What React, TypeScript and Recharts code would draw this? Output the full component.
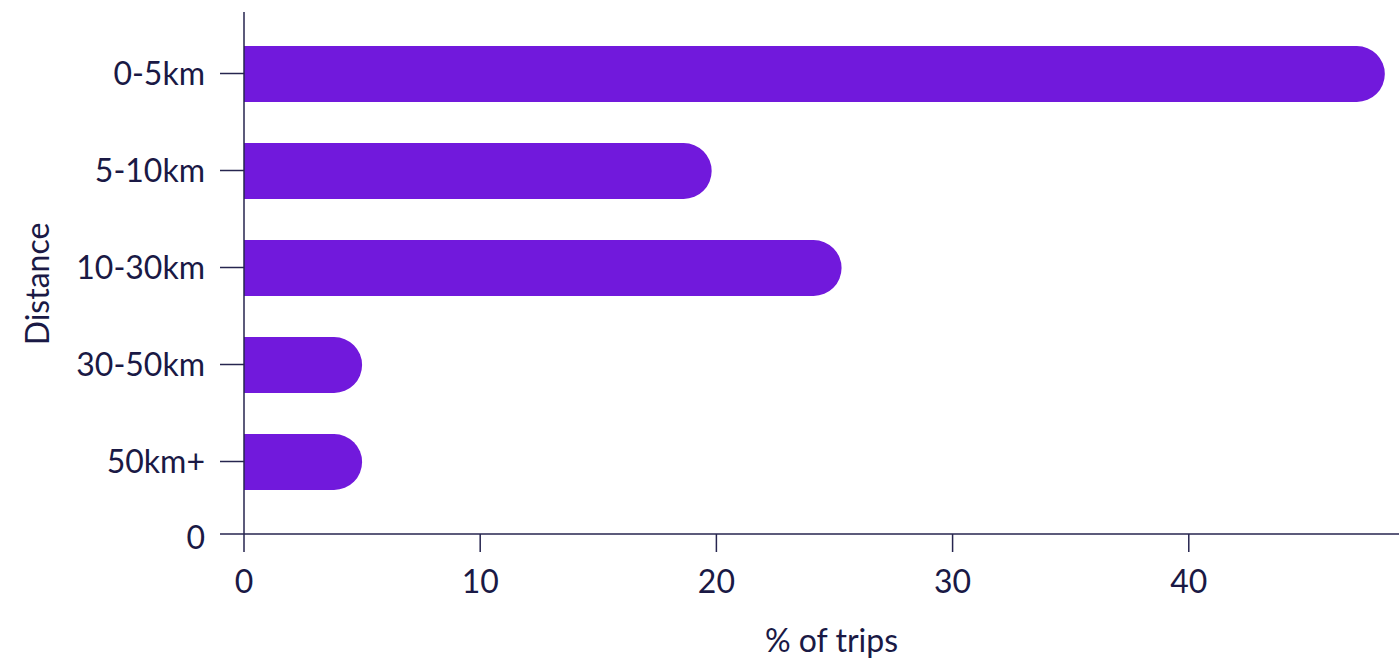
import { BarChart, Bar, XAxis, YAxis, Label } from 'recharts'

const distances = ['0-5km', '5-10km', '10-30km', '30-50km', '50km+']
const tripShare = [48.3, 19.8, 25.3, 5.0, 5.0]
const xTicks = [0, 10, 20, 30, 40]

const data = distances.map((d, i) => ({ distance: d, share: tripShare[i] }))

const INK = '#1a1945'
const AXIS = '#26254f'
const FONT = 'Lato, "Open Sans", sans-serif'

export default function App() {
  return (
    <div style={{ position: 'absolute', left: 0, top: 0, background: '#fff' }}>
      <BarChart
        width={1399}
        height={662}
        data={data}
        layout="vertical"
        margin={{ top: 12, right: 0, bottom: 0, left: 0 }}
        style={{ fontFamily: FONT }}
      >
        <XAxis
          type="number"
          dataKey="share"
          domain={[0, 48.9]}
          ticks={xTicks}
          allowDataOverflow
          height={128}
          tickSize={18}
          tickMargin={18}
          axisLine={{ stroke: AXIS, strokeWidth: 1.5 }}
          tickLine={{ stroke: AXIS, strokeWidth: 1.5 }}
          tick={{ fill: INK, fontSize: 32 }}
        >
          <Label
            content={({ viewBox }: any) => (
              <text
                x={viewBox.x + viewBox.width / 2 + 10}
                y={viewBox.y + 118}
                textAnchor="middle"
                fill={INK}
                fontSize={32}
              >
                % of trips
              </text>
            )}
          />
        </XAxis>
        <YAxis
          type="category"
          dataKey="distance"
          width={244}
          padding={{ top: 13, bottom: 24 }}
          tickSize={24}
          tickMargin={15}
          axisLine={{ stroke: AXIS, strokeWidth: 1.5 }}
          tickLine={{ stroke: AXIS, strokeWidth: 1.5 }}
          tick={{ fill: INK, fontSize: 32 }}
        >
          <Label
            content={({ viewBox }: any) => (
              <g>
                <line
                  x1={viewBox.x + viewBox.width - 24}
                  x2={viewBox.x + viewBox.width}
                  y1={viewBox.y + viewBox.height}
                  y2={viewBox.y + viewBox.height}
                  stroke={AXIS}
                  strokeWidth={1.5}
                />
                <text
                  x={viewBox.x + viewBox.width - 39}
                  y={viewBox.y + viewBox.height + 4}
                  dy="0.355em"
                  textAnchor="end"
                  fill={INK}
                  fontSize={32}
                >
                  0
                </text>
                <text
                  x={38}
                  y={284}
                  dy="0.355em"
                  transform="rotate(-90 38 284)"
                  textAnchor="middle"
                  fill={INK}
                  fontSize={32}
                >
                  Distance
                </text>
              </g>
            )}
          />
        </YAxis>
        <Bar
          dataKey="share"
          fill="#7119dc"
          barSize={56}
          radius={[0, 28, 28, 0]}
          isAnimationActive={false}
        />
      </BarChart>
    </div>
  )
}
